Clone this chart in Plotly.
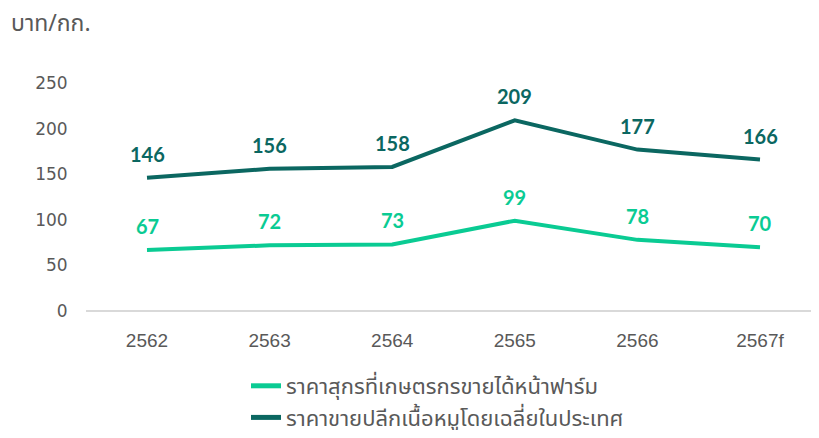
import plotly.graph_objects as go

years = ["2562", "2563", "2564", "2565", "2566", "2567f"]
farm_price = [67, 72, 73, 99, 78, 70]
retail_price = [146, 156, 158, 209, 177, 166]
series_names = ["ราคาสุกรที่เกษตรกรขายได้หน้าฟาร์ม", "ราคาขายปลีกเนื้อหมูโดยเฉลี่ยในประเทศ"]
y_ticks = [0, 50, 100, 150, 200, 250]
y_title = "บาท/กก."

light = "#0ACB93"
dark = "#0B6761"
gray = "#595959"
thai_font = "Noto Sans Thai, Noto Sans, Lato, sans-serif"

W, H = 803, 422
L, T, PH = 78, 75, 228
PW = W - L
STEP = 122.6  # px per category in the reference layout
x_range = [-(139 - L) / STEP, (W - 139) / STEP]

fig = go.Figure()
annos = []
for name, vals, col in [(series_names[0], farm_price, light), (series_names[1], retail_price, dark)]:
    fig.add_trace(go.Scatter(
        x=years, y=vals, name=name, mode="lines",
        line=dict(color=col, width=4),
    ))
    for i, yv in enumerate(vals):
        annos.append(dict(x=i, y=yv, xref="x", yref="y", text=str(yv),
                          showarrow=False, xanchor="center", yanchor="bottom",
                          yshift=10,
                          font=dict(family="Lato", size=20, color=col, weight="bold")))

annos.append(dict(text=y_title, xref="paper", yref="paper",
                  x=(1 - L) / PW, y=(PH + T - 16) / PH, xanchor="left", yanchor="middle",
                  showarrow=False,
                  font=dict(family=thai_font, size=23, color=gray)))

fig.update_layout(
    width=W, height=H,
    margin=dict(l=L, r=0, t=T, b=H - T - PH, autoexpand=False),
    paper_bgcolor="white", plot_bgcolor="white",
    showlegend=True,
    legend=dict(x=238 / W, y=1 - 357 / H, xref="container", yref="container",
                xanchor="left", yanchor="top",
                font=dict(family=thai_font, size=22, color=gray),
                tracegroupgap=0, itemsizing="constant"),
    xaxis=dict(type="category", range=x_range, showgrid=False, zeroline=False, showline=False,
               tickfont=dict(family="Liberation Sans Narrow, Liberation Sans", size=19, color=gray),
               ticks="outside", ticklen=12, tickcolor="rgba(0,0,0,0)"),
    yaxis=dict(range=[0, 250], tickvals=y_ticks, showgrid=False,
               zeroline=True, zerolinecolor="#D9D9D9", zerolinewidth=1.5,
               showline=False,
               tickfont=dict(family="DejaVu Sans", size=17, color=gray),
               ticks="outside", ticklen=14, tickcolor="rgba(0,0,0,0)"),
    annotations=annos,
)
fig.write_html("out.html")
